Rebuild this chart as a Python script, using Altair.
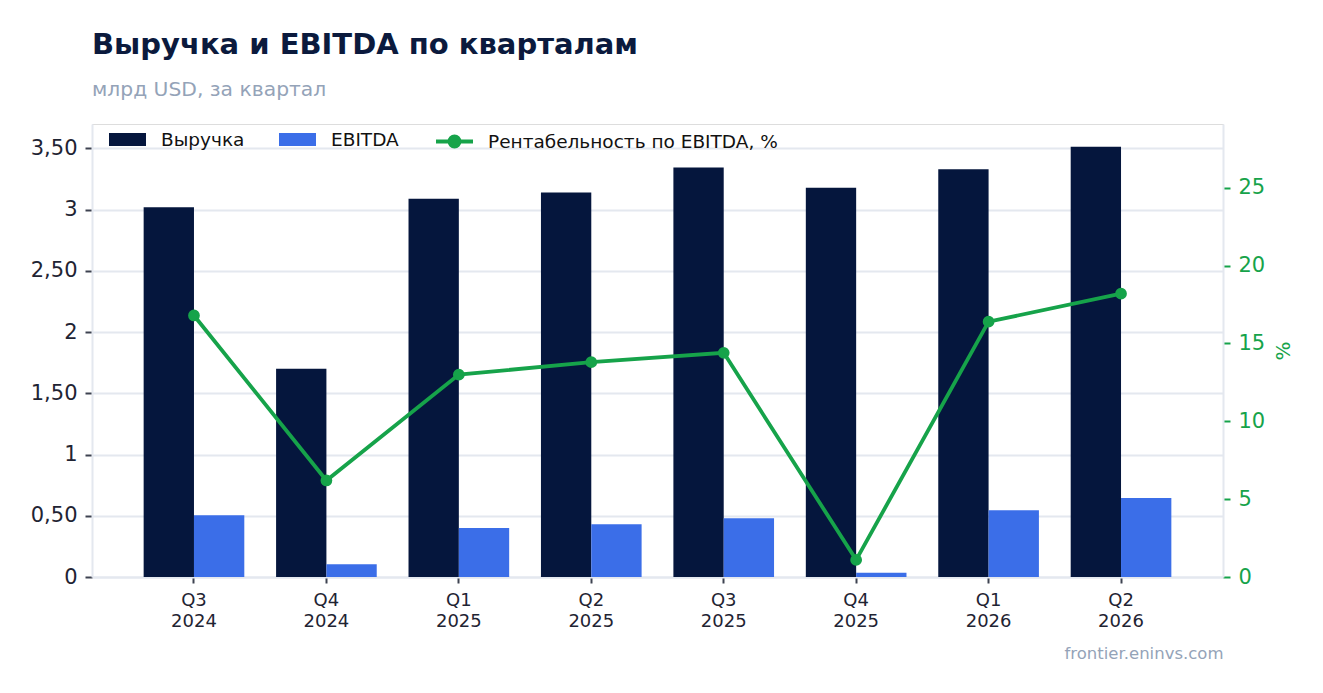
import altair as alt
import pandas as pd

quarters = ["Q3 2024", "Q4 2024", "Q1 2025", "Q2 2025", "Q3 2025", "Q4 2025", "Q1 2026", "Q2 2026"]
revenue = [3.02, 1.70, 3.09, 3.14, 3.345, 3.18, 3.33, 3.515]
ebitda = [0.505, 0.105, 0.40, 0.43, 0.48, 0.035, 0.545, 0.645]
margin = [16.8, 6.2, 13.0, 13.8, 14.4, 1.1, 16.4, 18.2]

series_names = ["Выручка", "EBITDA"]
line_name = "Рентабельность по EBITDA, %"
left_ticks = [0, 0.5, 1, 1.5, 2, 2.5, 3, 3.5]
right_ticks = [0, 5, 10, 15, 20, 25]

NAVY = "#05163d"
BLUE = "#3b6ee8"
GREEN = "#16a34a"
TEXT = "#1f2433"
GRID = "#e4e8ef"
FONT = "DejaVu Sans"

bars_df = pd.DataFrame(
    [{"q": q, "series": series_names[0], "v": r} for q, r in zip(quarters, revenue)]
    + [{"q": q, "series": series_names[1], "v": e} for q, e in zip(quarters, ebitda)]
)
line_df = pd.DataFrame({"q": quarters, "m": margin, "name": line_name})

x_enc = alt.X(
    "q:N",
    sort=quarters,
    scale=alt.Scale(paddingInner=0.24, paddingOuter=0.39),
    axis=alt.Axis(
        title="frontier.eninvs.com",
        titleAnchor="end",
        titleAlign="right",
        titleColor="#94a3b8",
        titleFontSize=16.5,
        titleFontWeight="normal",
        titleFont=FONT,
        titlePadding=15,
        labelExpr="split(datum.label, ' ')",
        labelAngle=0,
        labelFontSize=18,
        labelFont=FONT,
        labelColor=TEXT,
        labelLineHeight=21,
        labelPadding=8,
        tickColor="#3d4250",
        tickSize=6,
        tickWidth=2,
        domainColor=GRID,
        domainWidth=2,
        grid=False,
    ),
)

bar_path = "M-1,-0.352H1V0.352H-1Z"
line_path = "M-1,0H1M0.27,0A0.27,0.27,0,1,1,-0.27,0A0.27,0.27,0,1,1,0.27,0Z"

bars = alt.Chart(bars_df).mark_bar().encode(
    x=x_enc,
    xOffset=alt.XOffset("series:N", sort=series_names, scale=alt.Scale(paddingInner=0, paddingOuter=0)),
    y=alt.Y(
        "v:Q",
        scale=alt.Scale(domain=[0, 3.7], nice=False, zero=True),
        axis=alt.Axis(
            title=None,
            values=left_ticks,
            labelExpr="datum.value % 1 === 0 ? format(datum.value, 'd') : replace(format(datum.value, '.2f'), '.', ',')",
            labelFontSize=21,
            labelFont=FONT,
            labelColor=TEXT,
            labelPadding=8,
            tickColor="#3d4250",
            tickSize=7,
            tickWidth=2,
            domainColor=GRID,
            domainWidth=2,
            gridColor=GRID,
            gridWidth=2,
        ),
    ),
    color=alt.Color(
        "series:N",
        sort=series_names,
        scale=alt.Scale(domain=series_names, range=[NAVY, BLUE]),
        legend=alt.Legend(
            title=None,
            orient="none",
            legendX=17,
            legendY=-3,
            direction="horizontal",
            symbolType=bar_path,
            symbolSize=1369,
            symbolStrokeWidth=0,
            labelOffset=15,
            columnPadding=34,
            labelFontSize=18.5,
            labelFont=FONT,
            labelColor="#111111",
            padding=0,
        ),
    ),
)

right_axis = alt.Axis(
    title="%",
    orient="right",
    values=right_ticks,
    titleColor=GREEN,
    titleFontSize=20,
    titleFontWeight="normal",
    titleFont=FONT,
    titleAngle=270,
    titleBaseline="top",
    titlePadding=9,
    labelColor=GREEN,
    labelFontSize=21,
    labelFont=FONT,
    labelPadding=8,
    tickColor=GREEN,
    tickSize=7,
    tickWidth=2,
    domainColor=GRID,
    domainWidth=2,
    grid=False,
)

line = alt.Chart(line_df).mark_line(
    strokeWidth=3.8,
    point=alt.OverlayMarkDef(filled=True, size=95, color=GREEN, opacity=1),
).encode(
    x=alt.X("q:N", sort=quarters),
    y=alt.Y("m:Q", scale=alt.Scale(domain=[0, 29.1], nice=False), axis=right_axis),
    stroke=alt.Stroke(
        "name:N",
        scale=alt.Scale(domain=[line_name], range=[GREEN]),
        legend=alt.Legend(
            title=None,
            orient="none",
            legendX=342,
            legendY=-3,
            direction="horizontal",
            symbolType=line_path,
            symbolSize=1369,
            symbolStrokeWidth=3.8,
            symbolFillColor=GREEN,
            symbolStrokeColor=GREEN,
            labelOffset=13,
            labelFontSize=18.5,
            labelFont=FONT,
            labelColor="#111111",
            labelLimit=400,
            padding=0,
        ),
    ),
)

chart = (
    alt.layer(bars, line)
    .resolve_scale(y="independent", color="independent", stroke="independent")
    .properties(
        width=1131,
        height=453,
        padding={"left": 22, "top": 22, "right": 5, "bottom": 5},
        title=alt.TitleParams(
            text="Выручка и EBITDA по кварталам",
            subtitle="млрд USD, за квартал",
            anchor="start",
            frame="group",
            font=FONT,
            fontSize=29,
            fontWeight="bold",
            color="#0b1a3d",
            subtitleFont=FONT,
            subtitleFontSize=20.3,
            subtitleColor="#94a3b8",
            subtitlePadding=20,
            offset=21,
        ),
    )
    .configure_view(stroke=None)
    .configure(background="white")
)

chart.save("out.html", embed_options={"renderer": "svg", "actions": False})
